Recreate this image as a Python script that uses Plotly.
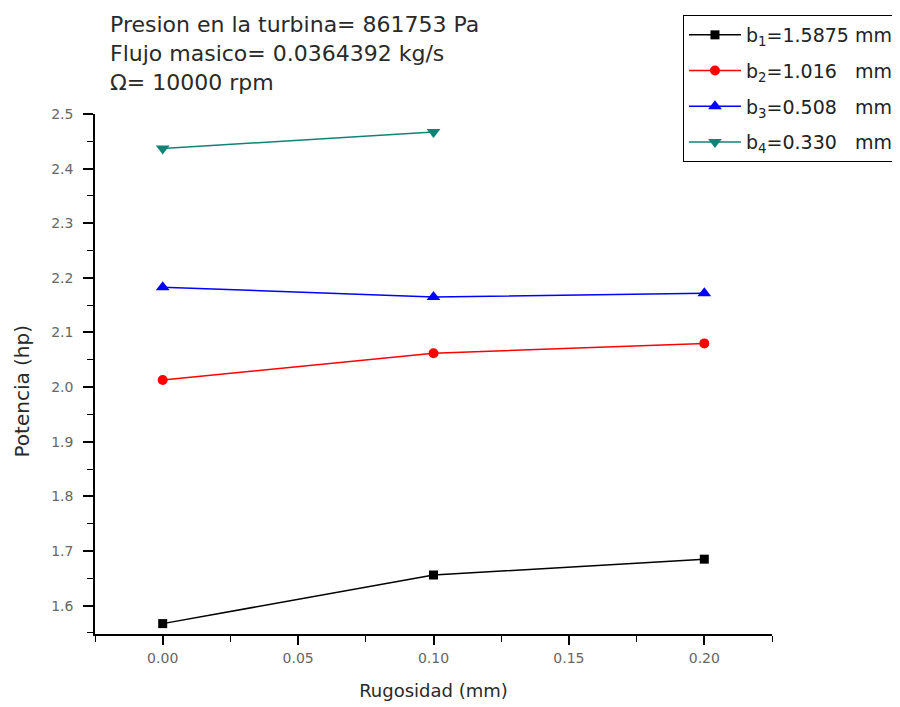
import plotly.graph_objects as go

rugosidad = [0.0, 0.10, 0.20]
b1_vals = [1.567, 1.656, 1.685]
b2_vals = [2.013, 2.062, 2.080]
b3_vals = [2.183, 2.165, 2.172]
b4_x = [0.0, 0.10]
b4_vals = [2.437, 2.467]

names = ["b<sub>1</sub>=1.5875 mm", "b<sub>2</sub>=1.016   mm",
         "b<sub>3</sub>=0.508   mm", "b<sub>4</sub>=0.330   mm"]
colors = ["#000000", "#ff0000", "#0000ff", "#128277"]
symbols = ["square", "circle", "triangle-up", "triangle-down"]
sizes = [9, 10, 12, 12]

info_lines = ["Presion en la turbina= 861753 Pa",
              "Flujo masico= 0.0364392 kg/s",
              "\u03a9= 10000 rpm"]

FONT = "DejaVu Sans, Liberation Sans, Arial, sans-serif"

fig = go.Figure()
series = [(rugosidad, b1_vals), (rugosidad, b2_vals), (rugosidad, b3_vals), (b4_x, b4_vals)]
for i, (xs, ys) in enumerate(series):
    fig.add_trace(go.Scatter(
        x=xs, y=ys, mode="lines+markers", name=names[i],
        legendgroup=f"g{i}",
        line=dict(color=colors[i], width=1.5),
        marker=dict(symbol=symbols[i], size=sizes[i], color=colors[i]),
    ))

for k, txt in enumerate(info_lines):
    fig.add_annotation(
        xref="paper", yref="paper", x=0.019, y=[1.173, 1.117, 1.061][k],
        xanchor="left", yanchor="middle", showarrow=False, text=txt,
        font=dict(family=FONT, size=22, color="#2a2a2a"),
    )

# y-axis title placed as rotated annotation (offset below axis centre as in reference)
fig.add_annotation(
    xref="paper", yref="paper", x=-0.108, y=0.468, textangle=-90,
    xanchor="center", yanchor="middle", showarrow=False,
    text="Potencia (hp)", font=dict(family=FONT, size=20, color="#2a2a2a"),
)

# page has an 8px body margin, so the figure is sized/offset to land on the window
fig.update_layout(
    width=892, height=699,
    margin=dict(l=87, r=128, t=106, b=73, autoexpand=False),
    paper_bgcolor="white", plot_bgcolor="white",
    font=dict(family=FONT, color="#333333"),
    legend=dict(
        x=0.8685, y=1.1904, xanchor="left", yanchor="top",
        bgcolor="white", bordercolor="#000000", borderwidth=1,
        font=dict(family=FONT, size=19, color="#222222"),
        tracegroupgap=8, itemwidth=52,
    ),
    showlegend=True,
)

fig.update_xaxes(
    range=[-0.025, 0.225], tickmode="linear", tick0=0, dtick=0.05,
    tickformat=".2f", showgrid=False, zeroline=False, automargin=False,
    showline=True, linecolor="black", linewidth=1.5,
    ticks="outside", ticklen=9, tickwidth=1.5, tickcolor="black",
    ticklabelstandoff=1,
    minor=dict(dtick=0.025, tick0=0, ticks="outside", ticklen=6, tickcolor="black", tickwidth=1.2),
    tickfont=dict(family=FONT, size=14, color="#666666"),
    title=dict(text="Rugosidad (mm)", font=dict(family=FONT, size=18, color="#2a2a2a"), standoff=20),
)
fig.update_yaxes(
    range=[1.548, 2.5], tickmode="linear", tick0=0, dtick=0.1,
    tickformat=".1f", showgrid=False, zeroline=False, automargin=False,
    showline=True, linecolor="black", linewidth=1.5,
    ticks="outside", ticklen=10, tickwidth=1.5, tickcolor="black",
    ticklabelstandoff=7,
    minor=dict(dtick=0.05, tick0=0, ticks="outside", ticklen=6, tickcolor="black", tickwidth=1.2),
    tickfont=dict(family=FONT, size=14, color="#666666"),
)

fig.write_html("out.html")
